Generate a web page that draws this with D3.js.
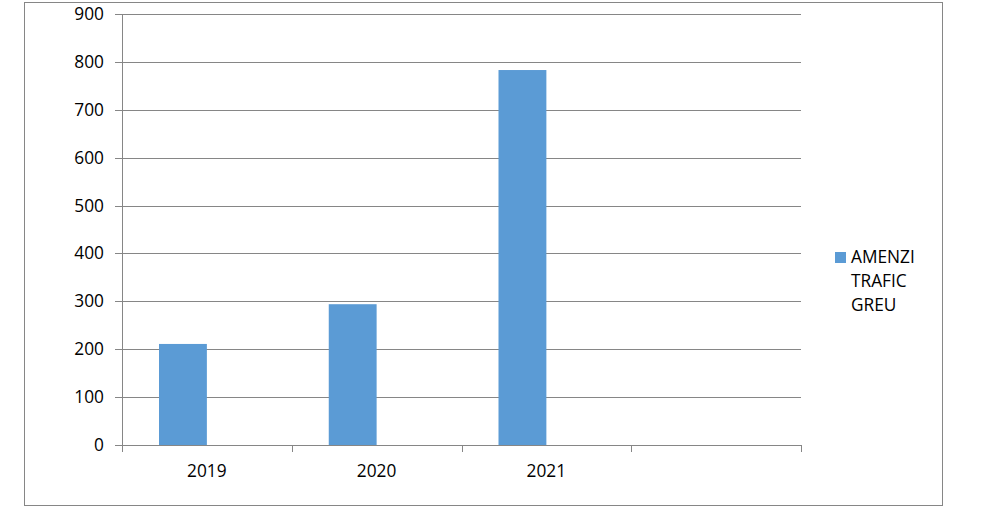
<!DOCTYPE html>
<html><head><meta charset="utf-8">
<script src="https://cdn.jsdelivr.net/npm/d3@7"></script>
<style>body{margin:0;background:#fff}svg{display:block}text{font-family:"Open Sans",sans-serif}</style>
</head><body>
<script>
const categories = ["2019", "2020", "2021", ""];
const seriesName = "AMENZI TRAFIC GREU";
const seriesLabelLines = ["AMENZI", "TRAFIC", "GREU"];
const values = [211, 294, 783, null];
const yTicks = [0, 100, 200, 300, 400, 500, 600, 700, 800, 900];

(function () {
const W = 984, H = 527;
const svg = d3.select("body").append("svg").attr("width", W).attr("height", H);
const gridColor = "#868686", barColor = "#5B9BD5";
const fs = 17.3;

svg.append("rect").attr("x", 24.5).attr("y", 2.5).attr("width", 918).attr("height", 503)
  .attr("fill", "#fff").attr("stroke", gridColor).attr("stroke-width", 1);

const pLeft = 122, pRight = 801, pTop = 14, pBottom = 445;
const x = d3.scaleBand().domain(d3.range(categories.length)).range([pLeft, pRight]);
const y = d3.scaleLinear().domain([0, 900]).range([pBottom, pTop]);

// gridlines
svg.append("g").selectAll("line").data(yTicks).join("line")
  .attr("x1", pLeft - 7).attr("x2", pRight)
  .attr("y1", d => Math.round(y(d)) + 0.5).attr("y2", d => Math.round(y(d)) + 0.5)
  .attr("stroke", gridColor).attr("stroke-width", 1);

// y labels
svg.append("g").selectAll("text").data(yTicks).join("text")
  .attr("x", 104).attr("y", d => y(d)).attr("dy", "0.35em")
  .attr("text-anchor", "end").attr("font-size", fs).attr("fill", "#000")
  .text(d => d);

// bars (series occupies left half of each group)
const groupPad = 37;
const barW = (x.bandwidth() - 2 * groupPad) / 2;
svg.append("g").selectAll("rect").data(values.map((v, i) => ({v, i})).filter(d => d.v != null)).join("rect")
  .attr("x", d => x(d.i) + groupPad)
  .attr("width", barW)
  .attr("y", d => y(d.v))
  .attr("height", d => y(0) - y(d.v))
  .attr("fill", barColor);

// y axis line
svg.append("line").attr("x1", pLeft + 0.5).attr("x2", pLeft + 0.5).attr("y1", pTop).attr("y2", pBottom)
  .attr("stroke", gridColor);
// x axis line
svg.append("line").attr("x1", pLeft).attr("x2", pRight).attr("y1", pBottom + 0.5).attr("y2", pBottom + 0.5)
  .attr("stroke", gridColor);
// x ticks
const tickXs = d3.range(categories.length + 1).map(i => i < categories.length ? x(i) : pRight);
svg.append("g").selectAll("line").data(tickXs).join("line")
  .attr("x1", d => Math.round(d) + 0.5).attr("x2", d => Math.round(d) + 0.5)
  .attr("y1", pBottom).attr("y2", pBottom + 7)
  .attr("stroke", gridColor);
// x labels
svg.append("g").selectAll("text").data(categories).join("text")
  .attr("x", (d, i) => x(i) + x.bandwidth() / 2).attr("y", 477)
  .attr("text-anchor", "middle").attr("font-size", fs).attr("fill", "#000")
  .text(d => d);

// legend
const lg = svg.append("g").attr("aria-label", seriesName);
lg.append("rect").attr("x", 835).attr("y", 252).attr("width", 11).attr("height", 11).attr("fill", barColor);
lg.append("text").attr("font-size", fs).attr("fill", "#000")
  .selectAll("tspan").data(seriesLabelLines).join("tspan")
  .attr("x", 851).attr("y", (d, i) => 263 + i * 24).text(d => d);
})();
</script>
</body></html>
